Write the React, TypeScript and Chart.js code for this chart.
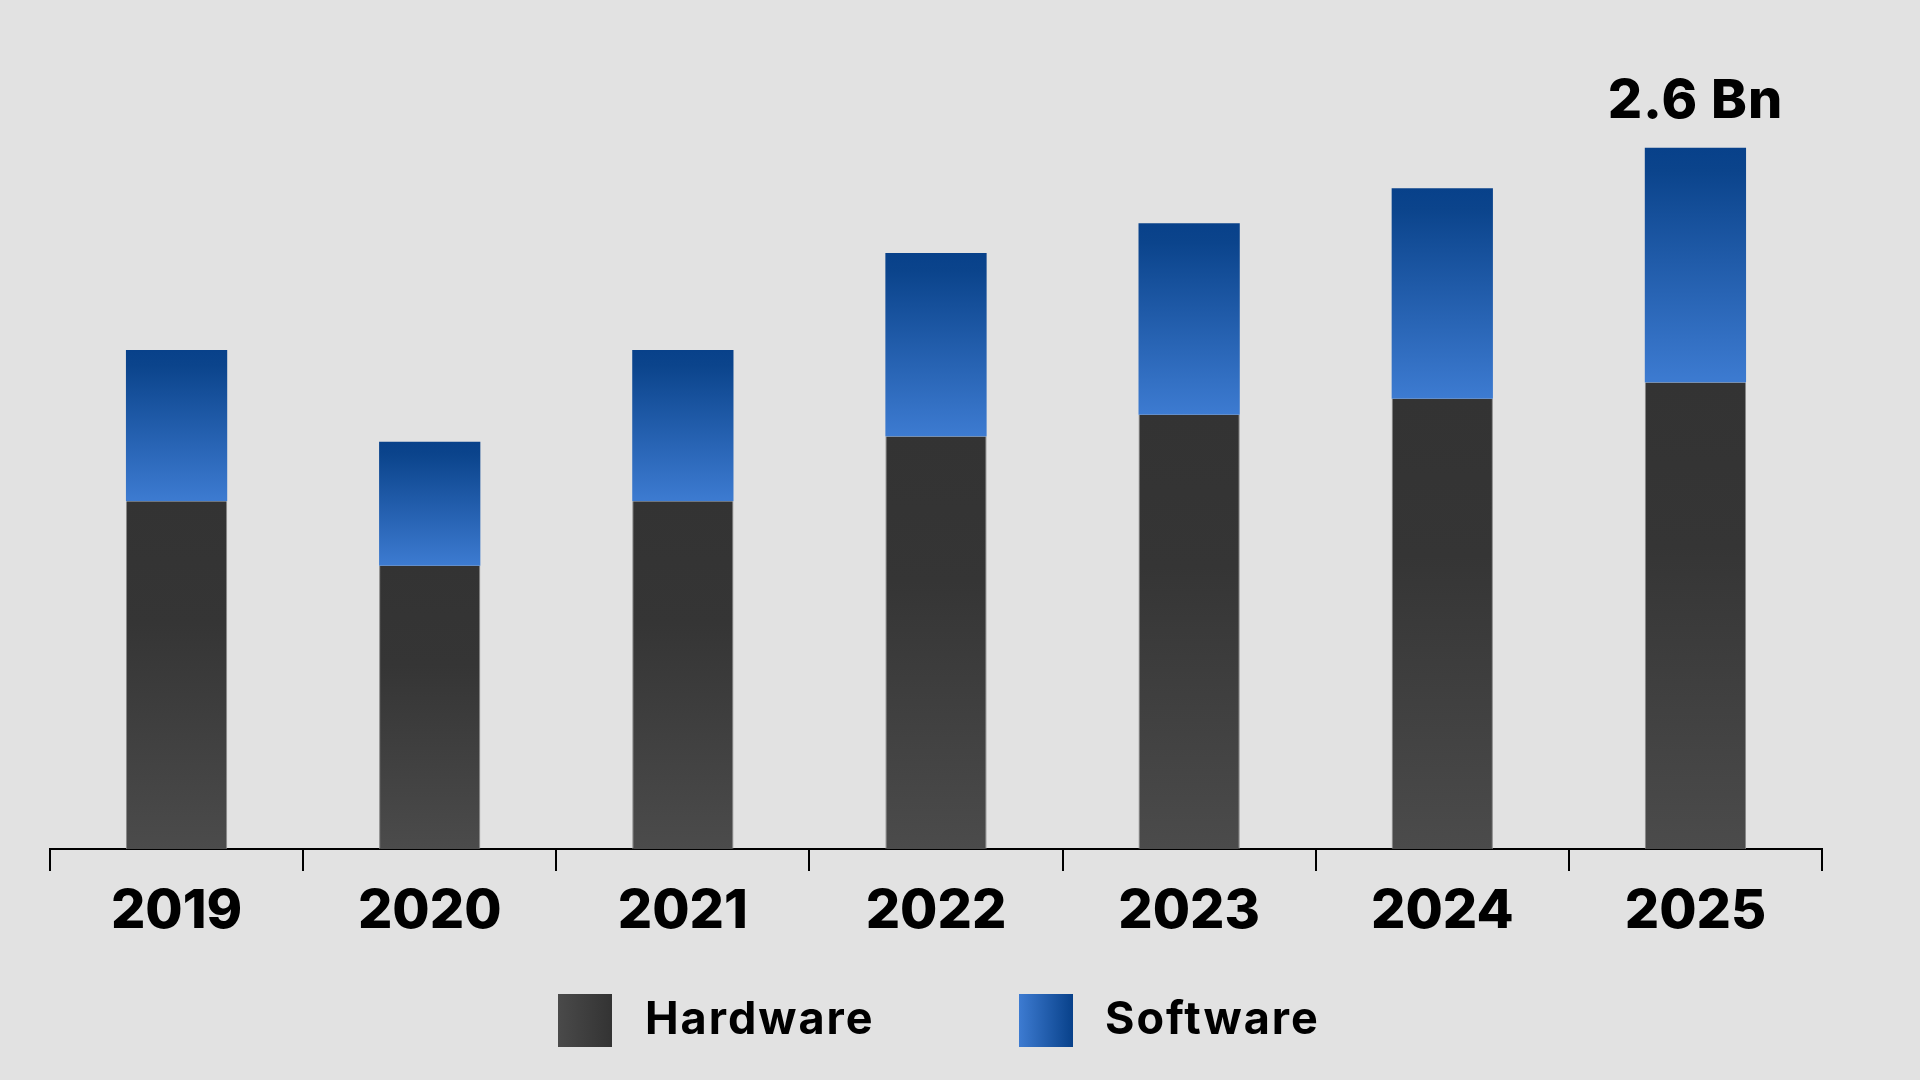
import React, { useEffect, useRef } from 'react';
import { Chart, registerables } from 'chart.js';

Chart.register(...registerables);

const years = ['2019', '2020', '2021', '2022', '2023', '2024', '2025'];
const hardware = [1.29, 1.05, 1.29, 1.53, 1.61, 1.67, 1.73];
const software = [0.56, 0.46, 0.56, 0.68, 0.71, 0.78, 0.87];
const seriesNames = ['Hardware', 'Software'];
const topLabel = '2.6 Bn';

const BG = '#e2e2e2';

export default function App() {
  const ref = useRef<HTMLCanvasElement | null>(null);

  useEffect(() => {
    document.body.style.margin = '0';
    document.body.style.background = BG;
    const canvas = ref.current!;

    const vGrad = (chart: any, topV: number, botV: number, stops: [number, string][], fallback: string) => {
      const y = chart.scales?.y;
      if (!y) return fallback;
      const top = y.getPixelForValue(topV);
      const bottom = y.getPixelForValue(botV);
      if (!isFinite(top) || !isFinite(bottom) || top === bottom) return fallback;
      const g = chart.ctx.createLinearGradient(0, top, 0, bottom);
      stops.forEach(([o, col]) => g.addColorStop(o, col));
      return g;
    };

    const hwGrad = (ctx: any) => {
      if (ctx.type !== 'data') return '#3a3a3a';
      const i = ctx.dataIndex;
      return vGrad(ctx.chart, hardware[i], 0, [[0, '#333333'], [0.35, '#353535'], [1, '#4b4b4b']], '#3a3a3a');
    };
    const swGrad = (ctx: any) => {
      if (ctx.type !== 'data') return '#2a60b0';
      const i = ctx.dataIndex;
      return vGrad(ctx.chart, hardware[i] + software[i], hardware[i], [[0, '#08418a'], [0.1, '#0b448c'], [1, '#3d7bd1']], '#2a60b0');
    };

    const overlay = {
      id: 'overlay',
      afterDraw(chart: any) {
        const c = chart.ctx;
        c.save();
        const meta = chart.getDatasetMeta(1);
        const el = meta.data[years.length - 1];
        c.fillStyle = '#000';
        c.font = '800 54px Inter, "DejaVu Sans", sans-serif';
        c.textAlign = 'center';
        c.textBaseline = 'alphabetic';
        (c as any).letterSpacing = '1px';
        if (el) c.fillText(topLabel, el.x, el.y - 30);

        const items = [
          { name: seriesNames[0], x: 558, tx: 645, c0: '#4a4a4a', c1: '#333333' },
          { name: seriesNames[1], x: 1019, tx: 1105, c0: '#3d7bd1', c1: '#08418a' },
        ];
        items.forEach((it) => {
          const g = c.createLinearGradient(it.x, 0, it.x + 54, 0);
          g.addColorStop(0, it.c0);
          g.addColorStop(1, it.c1);
          c.fillStyle = g;
          c.fillRect(it.x, 994, 54, 53);
          c.fillStyle = '#000';
          c.textAlign = 'left';
          c.font = '700 45px Inter, "DejaVu Sans", sans-serif';
          (c as any).letterSpacing = '2px';
          c.fillText(it.name, it.tx, 1034);
        });
        c.restore();
      },
    };

    const chart = new Chart(canvas, {
      type: 'bar',
      data: {
        labels: years,
        datasets: [
          {
            label: seriesNames[0],
            data: hardware,
            backgroundColor: hwGrad,
            borderColor: 'rgba(125,125,125,0.9)',
            borderWidth: { left: 1, right: 1, top: 0, bottom: 0 },
            barPercentage: 0.4,
            categoryPercentage: 1,
          },
          {
            label: seriesNames[1],
            data: software,
            backgroundColor: swGrad,
            borderWidth: 0,
            barPercentage: 0.4,
            categoryPercentage: 1,
          },
        ],
      },
      options: {
        responsive: false,
        animation: false,
        layout: { padding: { left: 50, right: 98, top: 40, bottom: 0 } },
        plugins: {
          legend: { display: false },
          tooltip: { enabled: false },
        },
        scales: {
          x: {
            stacked: true,
            afterFit: (s: any) => {
              s.height = 231;
            },
            border: { display: true, color: '#000', width: 2 },
            grid: {
              offset: true,
              drawOnChartArea: false,
              drawTicks: true,
              tickLength: 22,
              color: '#000',
              lineWidth: 2,
            },
            ticks: {
              color: '#000',
              padding: 8,
              font: { family: 'Inter, "DejaVu Sans", sans-serif', size: 54, weight: '800' },
            },
          },
          y: {
            stacked: true,
            display: false,
            min: 0,
            max: 3,
          },
        },
      },
      plugins: [overlay],
    } as any);

    return () => chart.destroy();
  }, []);

  return (
    <div style={{ width: 1920, height: 1080, background: BG }}>
      <canvas ref={ref} width={1920} height={1080} style={{ display: 'block' }} />
    </div>
  );
}
